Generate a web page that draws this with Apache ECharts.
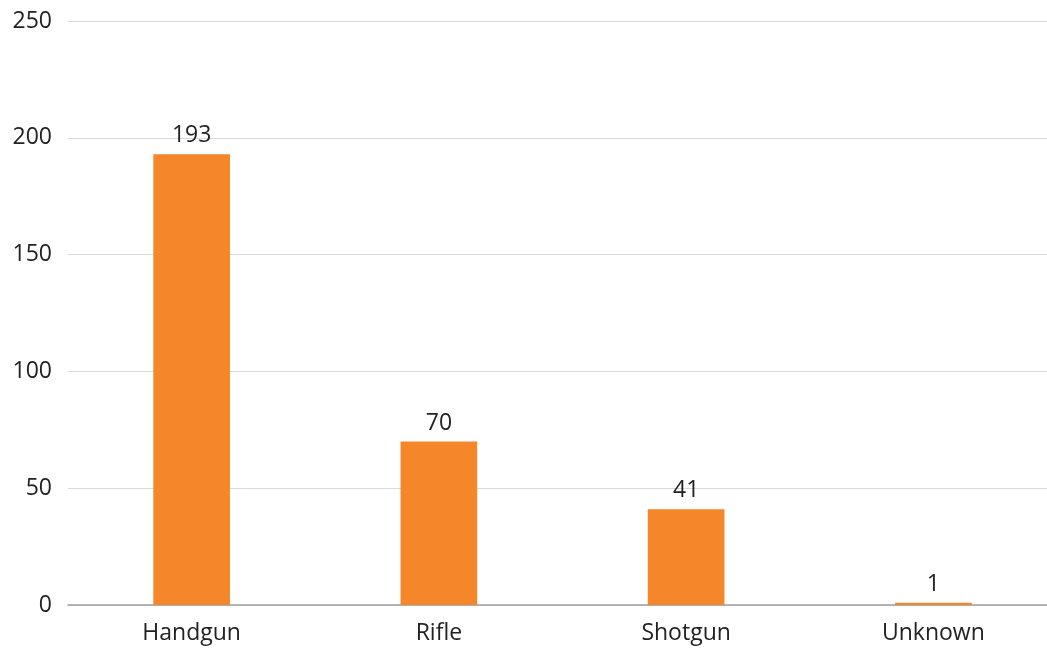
<!DOCTYPE html>
<html>
<head>
<meta charset="utf-8">
<script src="https://cdn.jsdelivr.net/npm/echarts@6/dist/echarts.min.js"></script>
<style>
  html, body { margin: 0; padding: 0; background: #fff; }
  #chart { width: 1047px; height: 649px; }
</style>
</head>
<body>
<div id="chart"></div>
<script>
// données
const categories = ['Handgun', 'Rifle', 'Shotgun', 'Unknown'];
const counts = [193, 70, 41, 1];
const yTicks = [0, 50, 100, 150, 200, 250];

const chart = echarts.init(document.getElementById('chart'));

chart.setOption({
    animation: false,
    textStyle: { fontFamily: '"Open Sans", sans-serif' },
    grid: { left: 68, right: -10, top: 21, bottom: 44, containLabel: false, outerBoundsMode: 'none' },
    xAxis: {
        type: 'category',
        data: categories,
        axisLine: { lineStyle: { color: '#a0a0a0', width: 1.5 } },
        axisTick: { show: false },
        axisLabel: { color: '#222', fontSize: 23, margin: 17 }
    },
    yAxis: {
        type: 'value',
        min: yTicks[0],
        max: yTicks[yTicks.length - 1],
        interval: 50,
        axisLine: { show: false },
        axisTick: { show: false },
        splitLine: { lineStyle: { color: '#d9d9d9', width: 1 } },
        axisLabel: { color: '#222', fontSize: 23, margin: 16 }
    },
    series: [{
        type: 'bar',
        data: counts,
        barWidth: '31%',
        itemStyle: { color: '#F5862A' },
        label: {
            show: true,
            position: 'top',
            color: '#222',
            fontSize: 23,
            distance: 7
        }
    }]
});
</script>
</body>
</html>
